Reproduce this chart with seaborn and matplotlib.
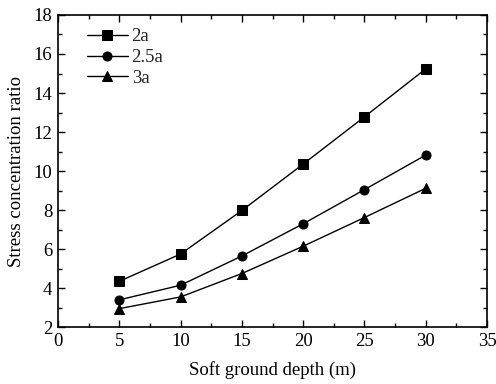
import matplotlib
matplotlib.use("Agg")
import matplotlib.pyplot as plt
import seaborn as sns
import pandas as pd
from matplotlib.ticker import MultipleLocator

depth = [5, 10, 15, 20, 25, 30]
s_2a = [4.35, 5.75, 7.98, 10.36, 12.78, 15.24]
s_25a = [3.40, 4.15, 5.65, 7.30, 9.05, 10.82]
s_3a = [2.95, 3.55, 4.75, 6.15, 7.62, 9.12]
labels = ["2a", "2.5a", "3a"]

rows = []
for lab, vals in zip(labels, [s_2a, s_25a, s_3a]):
    for d, v in zip(depth, vals):
        rows.append({"depth": d, "ratio": v, "case": lab})
df = pd.DataFrame(rows)

sns.set_theme(style="ticks")
plt.rcParams["font.family"] = ["Liberation Serif", "DejaVu Serif"]

fig = plt.figure(figsize=(4.96, 3.84), dpi=100)
ax = fig.add_axes([0.117, 0.148, 0.865, 0.813])

sns.lineplot(data=df, x="depth", y="ratio", hue="case", style="case",
             markers=["s", "o", "^"], dashes=False,
             palette=["black", "black", "black"], markersize=6.5,
             linewidth=1.0, markeredgecolor="black", ax=ax)

ax.set_xlim(0, 35)
ax.set_ylim(2, 18)
ax.xaxis.set_major_locator(MultipleLocator(5))
ax.xaxis.set_minor_locator(MultipleLocator(2.5))
ax.yaxis.set_major_locator(MultipleLocator(2))
ax.yaxis.set_minor_locator(MultipleLocator(1))
ax.tick_params(which="both", direction="in", top=True, right=True,
               labelsize=13.5, colors="black")
ax.tick_params(which="major", length=5, width=1, pad=4)
ax.tick_params(which="minor", length=3, width=1)
for s in ax.spines.values():
    s.set_linewidth(1.2)
    s.set_color("black")
ax.set_xlabel("Soft ground depth (m)", fontsize=13.5, color="black", labelpad=8)
ax.set_ylabel("Stress concentration ratio", fontsize=13.5, color="black", labelpad=6)

leg = ax.legend(loc="upper left", frameon=False, fontsize=13.5,
                handlelength=2.2, handletextpad=0.2, borderaxespad=0.3,
                labelspacing=0.2, bbox_to_anchor=(0.036, 1.0))
leg.set_title(None)

fig.savefig("out.png", dpi=100)
